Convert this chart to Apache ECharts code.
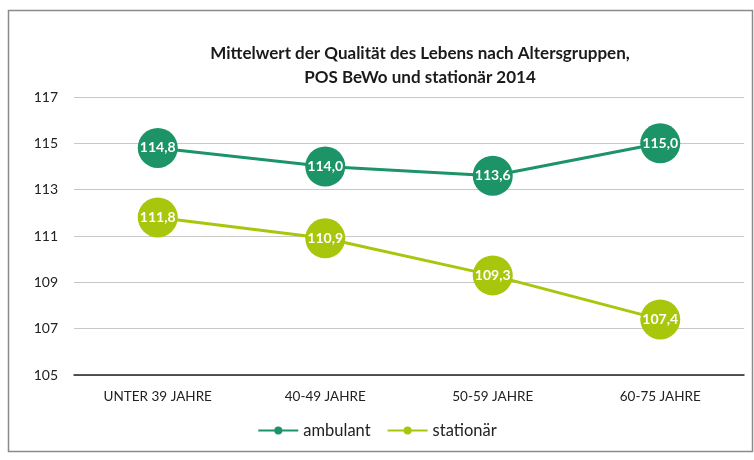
<!DOCTYPE html>
<html><head><meta charset="utf-8">
<script src="https://cdn.jsdelivr.net/npm/echarts@6/dist/echarts.min.js"></script>
<style>html,body{margin:0;padding:0;background:#fff}#c{width:754px;height:460px}</style>
</head><body><div id="c"></div>
<script>
const categories = ['UNTER 39 JAHRE', '40-49 JAHRE', '50-59 JAHRE', '60-75 JAHRE'];
const ambulant = [114.8, 114.0, 113.6, 115.0];
const stationaer = [111.8, 110.9, 109.3, 107.4];
const titleLines = ['Mittelwert der Qualität des Lebens nach Altersgruppen,', 'POS BeWo und stationär 2014'];
const FONT = 'Lato, "Open Sans", sans-serif';
const fmt = p => p.value.toFixed(1).replace('.', ',');
const chart = echarts.init(document.getElementById('c'));
chart.setOption({
  animation: false,
  textStyle: {fontFamily: FONT},
  title: {
    text: titleLines.join('\n'), left: 415, top: 37, textAlign: 'center',
    textStyle: {fontFamily: FONT, fontSize: 17, fontWeight: 'bold', color: '#1a1a1a', lineHeight: 24}
  },
  graphic: [{type: 'rect', shape: {x: 8.5, y: 10.5, width: 744, height: 441}, style: {fill: 'none', stroke: '#8a8a8a', lineWidth: 1.5}, silent: true}],
  legend: {
    bottom: 16, left: 'center', itemGap: 16, itemWidth: 40, itemHeight: 10,
    textStyle: {fontFamily: FONT, fontSize: 16.5, color: '#222'},
    data: ['ambulant', 'stationär']
  },
  grid: {left: 74, right: 10, top: 97, bottom: 85},
  xAxis: {
    type: 'category', data: categories, boundaryGap: true,
    axisLine: {lineStyle: {color: '#222', width: 1.5}},
    axisTick: {show: false},
    axisLabel: {color: '#222', fontSize: 13.5, fontFamily: FONT, margin: 15}
  },
  yAxis: {
    type: 'value', min: 105, max: 117, interval: 2,
    axisLine: {show: false}, axisTick: {show: false},
    axisLabel: {color: '#222', fontSize: 14, fontFamily: FONT, margin: 16},
    splitLine: {lineStyle: {color: '#c8c8c8', width: 1}}
  },
  series: [
    {name: 'ambulant', type: 'line', data: ambulant, symbol: 'circle', symbolSize: 40,
     itemStyle: {color: '#1d9468'}, lineStyle: {width: 3, color: '#1d9468'},
     label: {show: true, position: 'inside', color: '#fff', fontWeight: 'bold', fontSize: 14, fontFamily: FONT, formatter: fmt}},
    {name: 'stationär', type: 'line', data: stationaer, symbol: 'circle', symbolSize: 40,
     itemStyle: {color: '#a8c70c'}, lineStyle: {width: 3, color: '#a8c70c'},
     label: {show: true, position: 'inside', color: '#fff', fontWeight: 'bold', fontSize: 14, fontFamily: FONT, formatter: fmt}}
  ]
});
</script></body></html>
